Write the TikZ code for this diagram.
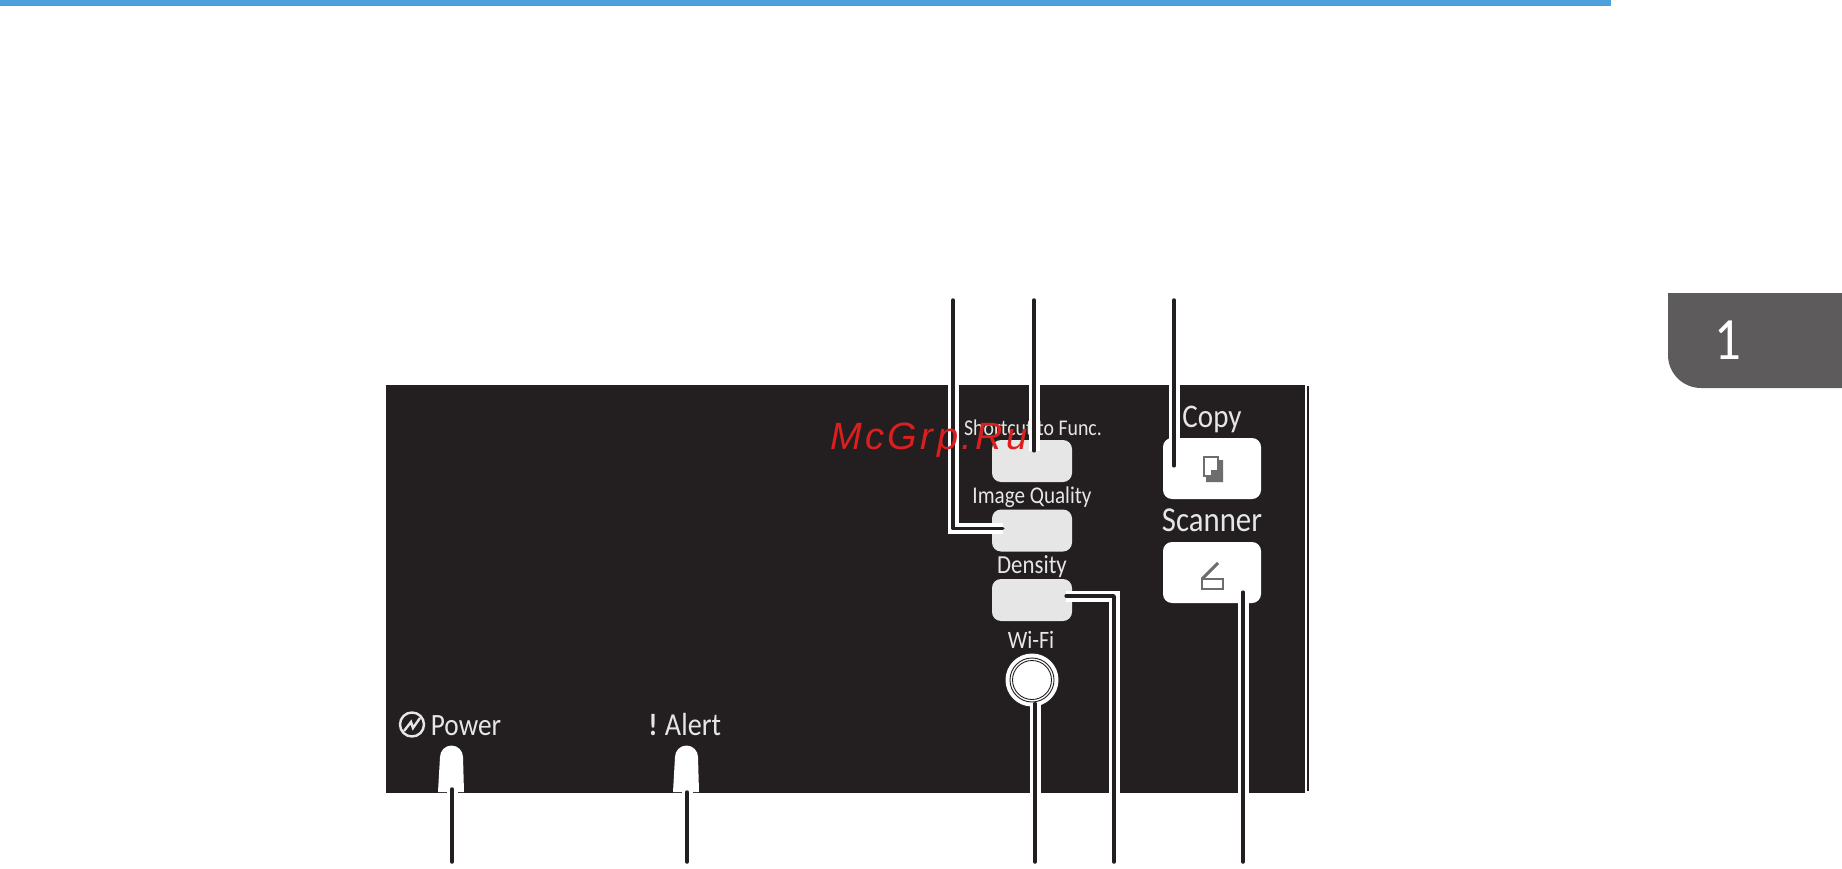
\documentclass[tikz,border=0pt]{standalone}
\usepackage{fontspec}
\setmainfont[FakeStretch=0.88]{Carlito}
\newfontfamily\markfont[LetterSpace=9]{Liberation Sans}
\usepackage{tikz}
\usetikzlibrary{positioning}
\definecolor{panelink}{HTML}{231F20}
\definecolor{softkey}{HTML}{E6E6E6}
\definecolor{tabgray}{HTML}{5D5B5C}
\definecolor{barblue}{HTML}{4F9FDC}
\definecolor{glyphgray}{HTML}{6D6D6D}
\definecolor{markred}{RGB}{220,30,30}
\tikzset{x=1pt, y=-1pt, node distance=69.5pt,
softbtn/.style={rectangle, rounded corners=9pt, fill=softkey, minimum width=80pt, minimum height=42pt, inner sep=0pt},
modebtn/.style={rectangle, rounded corners=9pt, fill=white, minimum width=98pt, minimum height=61pt, inner sep=0pt},
label/.style={text=softkey, anchor=base, inner sep=0pt},
leader/.style={draw=panelink, line width=3.5pt, line cap=round, line join=round, preaction={draw=white, line width=11pt}},
}

\begin{document}
\begin{tikzpicture}
        \useasboundingbox (0,0) rectangle (1842,869);
        \fill[barblue] (0,0) rectangle (1611,6);
        \fill[tabgray] (1842,293) -- (1668,293) -- (1668,355) arc[start angle=180, end angle=270, radius=33pt] -- (1842,388) -- cycle;
        \node[text=white, font=\fontsize{60}{64}\selectfont, anchor=base] (tabnum) at (1728,359) {1};
        \fill[panelink] (386,385) rectangle (1305,793);
        \draw[panelink, line width=1.5pt] (1308,386) -- (1308,791);

        \node[softbtn] (sfunc) at (1032,461) {};
        \node[softbtn, below of=sfunc] (iq) {};
        \node[softbtn, below of=iq] (dens) {};
        \node[modebtn] (copy) at (1212,468.5) {};
        \node[modebtn, below of=copy, node distance=104pt] (scan) {};
        \node[circle, fill=white, minimum size=53pt, inner sep=0pt] (wifi) at (1032,680) {};
        \draw[panelink, line width=0.9pt] (wifi.center) circle (22pt) (wifi.center) circle (19.5pt);

        \node[label, font=\fontsize{22.5}{30}\selectfont] (lfunc) at (1033,435) {Shortcut to Func.};
        \node[label, font=\fontsize{24}{30}\selectfont] (liq) at (1032,503) {Image Quality};
        \node[label, font=\fontsize{26}{30}\selectfont] (ldens) at (1032,573) {Density};
        \node[label, font=\fontsize{25}{30}\selectfont] (lwifi) at (1031,648) {Wi-Fi};
        \node[label, font=\fontsize{33}{36}\selectfont] (lcopy) at (1212,427) {Copy};
        \node[label, font=\fontsize{35}{36}\selectfont] (lscan) at (1212,531) {Scanner};
        \node[label, font=\fontsize{31}{36}\selectfont] (lpower) at (466,735) {Power};
        \node[label, font=\fontsize{32}{36}\selectfont] (lalert) at (693,735) {Alert};
        \node[label, font=\bfseries\fontsize{31}{36}\selectfont] (lbang) at (653,735) {!};

        % power glyph
        \draw[softkey, line width=2.4pt] (412,724.5) circle (12pt);
        \draw[softkey, line width=2.4pt] (404,731) -- (411,722) -- (413,728) -- (420,718);

        % copy and scanner glyphs
        \draw[glyphgray, line width=1.6pt] (1204,457) rectangle (1218,476);
        \fill[glyphgray] (1206,482) -- (1223,482) -- (1223,460) -- (1219,460) -- (1219,470) -- (1211,470) -- (1211,477) -- (1206,477) -- cycle;
        \draw[glyphgray, line width=2.5pt] (1202,589) rectangle (1223,579);
        \draw[glyphgray, line width=3pt] (1202,579) -- (1218,563);

        % lamps
        \fill[white] (438,792) -- (440,757) arc[start angle=180, end angle=0, radius=11.5pt] -- (464,792) -- cycle;
        \fill[white] (673,792) -- (675,757) arc[start angle=180, end angle=0, radius=11.5pt] -- (699,792) -- cycle;
        \coordinate (lamppower) at (452,789);
        \coordinate (lampalert) at (687,792);

        \coordinate (topiq) at (953,300);
        \coordinate (topfunc) at (1034,300);
        \coordinate (topcopy) at (1174,300);
        \coordinate (botwifi) at (1035,862);
        \coordinate (botdens) at (1114,862);
        \coordinate (botscan) at (1243,862);
        \coordinate (botpower) at (452,862);
        \coordinate (botalert) at (687,862);

        \draw[leader] (topiq) |- ([shift={(11pt,2pt)}]iq.west);
        \draw[leader] (topfunc) -- ([yshift=-11pt]topfunc |- sfunc.north);
        \draw[leader] (topcopy) -- ([yshift=-28pt]topcopy |- copy.north);
        \draw[leader] (botwifi) -- ([yshift=3pt]botwifi |- wifi.south);
        \draw[leader] (botdens) |- ([shift={(-6pt,4pt)}]dens.east);
        \draw[leader] (botscan) -- ([yshift=11pt]botscan |- scan.south);
        \draw[leader] (botpower) -- (lamppower);
        \draw[leader] (botalert) -- (lampalert);

        \node[text=markred, font=\markfont\itshape\fontsize{38}{44}\selectfont, anchor=base] (mark) at (929,449) {McGrp.Ru};
    \end{tikzpicture}
\end{document}
